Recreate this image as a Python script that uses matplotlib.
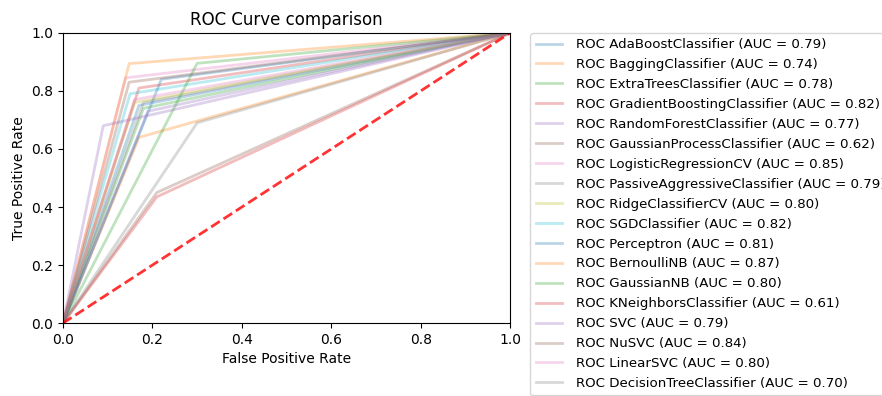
import matplotlib
matplotlib.use('Agg')
import matplotlib.pyplot as plt

# classifier names and legend AUC values
names = ['AdaBoostClassifier', 'BaggingClassifier', 'ExtraTreesClassifier',
         'GradientBoostingClassifier', 'RandomForestClassifier',
         'GaussianProcessClassifier', 'LogisticRegressionCV',
         'PassiveAggressiveClassifier', 'RidgeClassifierCV', 'SGDClassifier',
         'Perceptron', 'BernoulliNB', 'GaussianNB', 'KNeighborsClassifier',
         'SVC', 'NuSVC', 'LinearSVC', 'DecisionTreeClassifier']
auc_values = [0.79, 0.74, 0.78, 0.82, 0.77, 0.62, 0.85, 0.79, 0.80,
              0.82, 0.81, 0.87, 0.80, 0.61, 0.79, 0.84, 0.80, 0.70]

# single operating point per classifier (binary predictions)
fpr_mid = [0.17, 0.17, 0.18, 0.17, 0.19, 0.21, 0.14, 0.18, 0.16,
           0.15, 0.22, 0.148, 0.30, 0.21, 0.09, 0.148, 0.16, 0.30]
tpr_mid = [0.75, 0.64, 0.74, 0.81, 0.73, 0.45, 0.845, 0.76, 0.76,
           0.79, 0.84, 0.894, 0.895, 0.435, 0.68, 0.83, 0.77, 0.69]

fig = plt.figure(figsize=(8.82, 3.96), dpi=100)
ax = fig.add_axes([0.0714, 0.184, 0.507, 0.733])

for name, auc, f, t in zip(names, auc_values, fpr_mid, tpr_mid):
    ax.plot([0, f, 1], [0, t, 1], lw=2, alpha=0.3,
            label='ROC %s (AUC = %0.2f)' % (name, auc))

ax.plot([0, 1], [0, 1], linestyle='--', lw=2, color='r', alpha=0.8)

ax.set_xlim(0, 1)
ax.set_ylim(0, 1)
ax.set_xlabel('False Positive Rate')
ax.set_ylabel('True Positive Rate')
ax.set_title('ROC Curve comparison')
ax.legend(loc='upper left', bbox_to_anchor=(1.045, 1.0), borderaxespad=0,
          fontsize=9.6, labelspacing=0.52, handletextpad=1.0)

fig.savefig('out.png', dpi=100)
